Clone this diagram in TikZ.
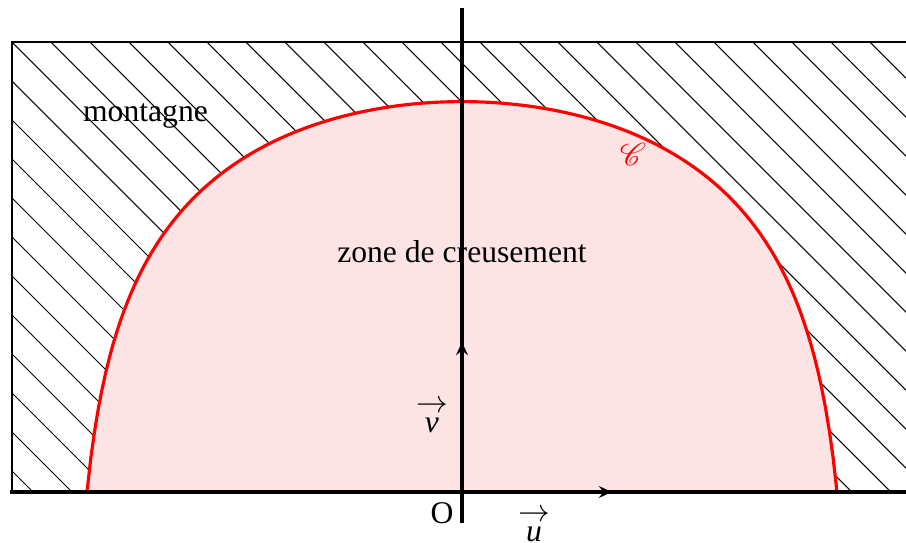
\documentclass[tikz,border=0pt]{standalone}
\usepackage{fontspec}
\setmainfont{Liberation Serif}
\usepackage{mathrsfs}
\usetikzlibrary{arrows.meta}
\definecolor{zonefill}{RGB}{253,228,228}
\newcommand\myvecl[1]{\makebox[12pt][c]{\itshape #1}\llap{\makebox[12pt][c]{\raisebox{7.4pt}{$\rightarrow$}}}}
\begin{document}
\begin{tikzpicture}[x=2cm,y=2cm,
  font=\fontsize{12}{14}\selectfont,
  hatchline/.style={line width=0.4pt},
  border/.style={line width=0.8pt},
  axisline/.style={line width=1.5pt},
  vecline/.style={line width=1.5pt,-{Stealth[length=5pt,width=4.5pt,inset=1.8pt]}},
  curvestyle/.style={red,line width=1.2pt},
  lab/.style={inner sep=0pt,anchor=base}]
\useasboundingbox (-3.08,-0.34) rectangle (2.96,3.28);
% hatching of the mountain
\begin{scope}
  \clip (-3,0) rectangle (3,3);
  \foreach \k in {-12,...,24}
    \draw[hatchline] ({0.26*\k-3},3) -- ({0.26*\k},0);
\end{scope}
% zone de creusement
\fill[zonefill] plot[domain=-2.5:2.5,samples=201] (\x,{ln(max(13.5-2*\x*\x,1))}) -- cycle;
\draw[curvestyle] plot[domain=-2.5:2.5,samples=201] (\x,{ln(max(13.5-2*\x*\x,1))});
\draw[border] (-3,0) rectangle (3,3);
% labels
\node[lab] (mont) at (-2.11,2.467) {montagne};
\node[lab] (zone) at (0,1.533) {zone de creusement};
\node[red,inner sep=0pt] (cC) at (1.14,2.25) {$\mathscr{C}$};
% axes
\coordinate (O) at (0,0);
\coordinate (xl) at (-3.01,0);
\coordinate (xr) at (3.01,0);
\coordinate (yb) at (0,-0.207);
\coordinate (yt) at (0,3.227);
\coordinate (ue) at (1,0);
\coordinate (ve) at (0,1);
\draw[axisline] (xl) -- (xr);
\draw[axisline] (yb) -- (yt);
\draw[vecline] (O) -- (ue);
\draw[vecline] (O) -- (ve);
\node[lab] (oLab) at (-0.133,-0.207) {O};
\node[lab] (vLab) at (-0.2,0.4) {\myvecl{v}};
\node[lab] (uLab) at (0.48,-0.33) {\myvecl{u}};
\end{tikzpicture}
\end{document}
